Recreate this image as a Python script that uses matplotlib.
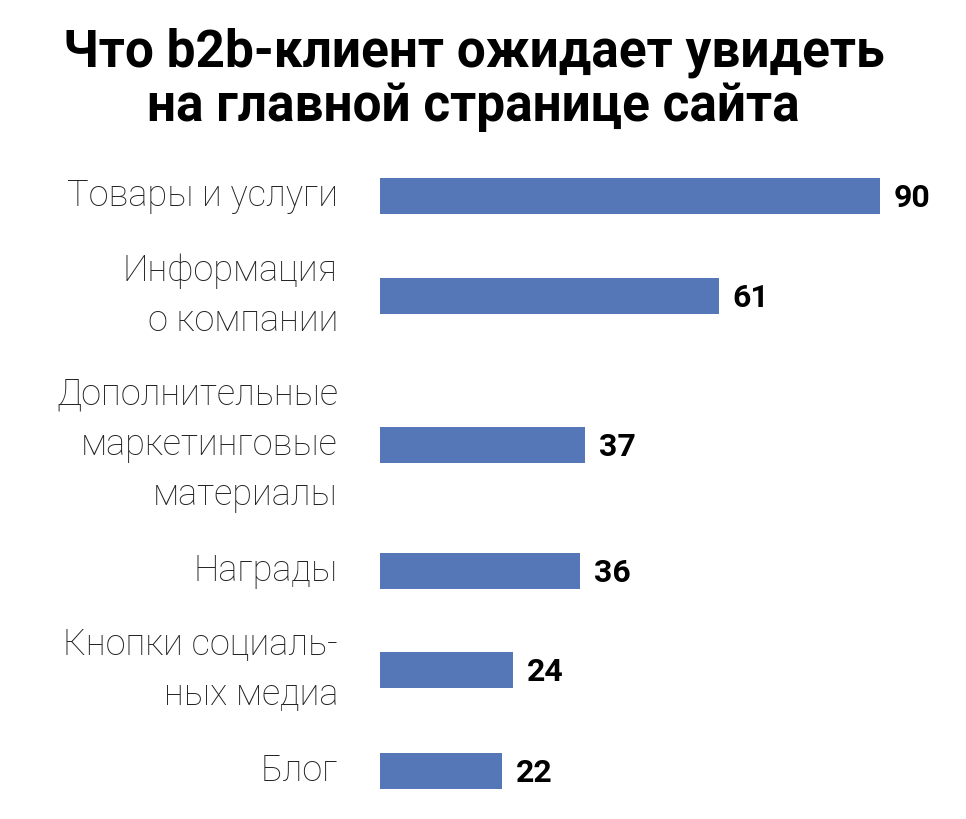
import matplotlib.pyplot as plt

categories = ['Товары и услуги', 'Информация\nо компании',
              'Дополнительные\nмаркетинговые\nматериалы', 'Награды',
              'Кнопки социаль-\nных медиа', 'Блог']
values = [90, 61, 37, 36, 24, 22]
# vertical centres of the rows (layout, pixel-like units from the top)
row_pos = [196, 296, 445, 571, 670, 771]

W, H = 966, 819
fig = plt.figure(figsize=(W / 100, H / 100), dpi=100)
ax = fig.add_axes([380 / W, 0, 583 / W, 1])
ax.set_xlim(0, 105)
ax.set_ylim(H, 0)
ax.axis('off')

ax.barh(row_pos, values, height=36, color='#5577b8')
for y, v, c in zip(row_pos, values, categories):
    ax.text(v + 2.5, y + 2, str(v), va='center', ha='left', fontsize=23,
            fontweight='bold', family='Roboto', color='black')
    fig.text(338 / W, 1 - y / H, c, ha='right', va='center', fontsize=26,
             family='Roboto', fontweight='light', color='#222222',
             linespacing=1.5)

fig.text(0.49, 1 - 80 / H, 'Что b2b-клиент ожидает увидеть\nна главной странице сайта',
         ha='center', va='center', fontsize=37, fontweight='bold',
         family='Roboto', linespacing=1.1)

fig.savefig('out.png', dpi=100)
